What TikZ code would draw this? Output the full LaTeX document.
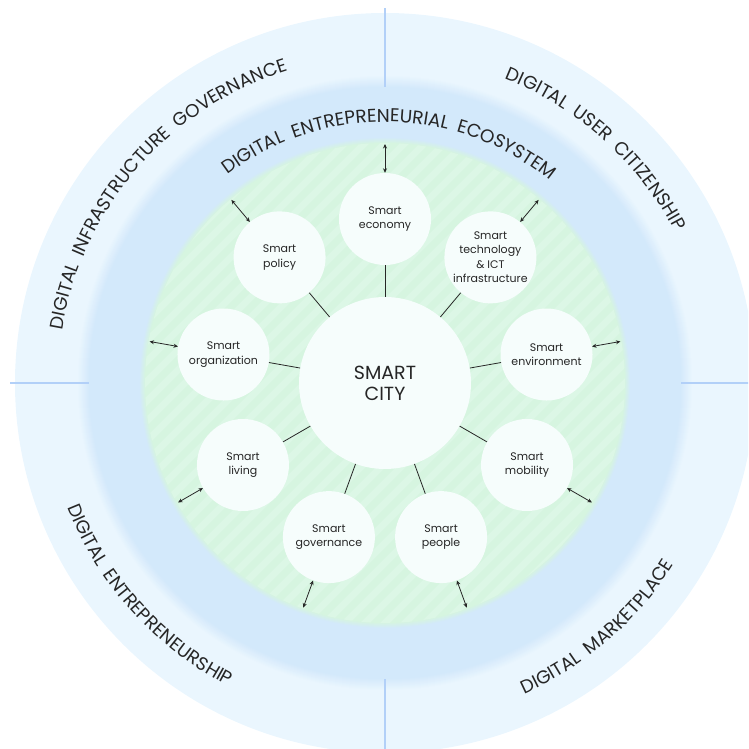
\documentclass[tikz,border=0pt]{standalone}
\usepackage{fontspec}
\setmainfont{Poppins}
\newfontfamily\ringfont{Poppins}
\usepackage{xcolor}
\usetikzlibrary{decorations.text, arrows.meta}

\definecolor{outerblue}{HTML}{EAF6FE}
\definecolor{ringblue}{HTML}{D3E9FB}
\definecolor{cityGreen}{HTML}{D6F5E0}
\definecolor{stripeGreen}{HTML}{DCF7E6}
\definecolor{bubblewhite}{HTML}{F6FDFC}
\definecolor{dividerblue}{HTML}{B2D0F8}
\definecolor{ink}{HTML}{262626}

\newcommand{\gap}{{\kern9pt}}

\tikzset{
  bubble/.style={circle, fill=bubblewhite, minimum size=92pt, inner sep=0pt, align=center, text=ink, font=\fontsize{11}{14.5}\selectfont},
  hubcircle/.style={circle, fill=bubblewhite, minimum size=172pt, inner sep=0pt, align=center, text=ink, font=\fontsize{19}{21}\selectfont},
  spoke/.style={draw=ink, line width=0.8pt},
  link/.style={draw=ink, line width=0.8pt, {Stealth[length=4.5pt,width=4pt]}-{Stealth[length=4.5pt,width=4pt]}},
  divider/.style={draw=dividerblue, line width=1.2pt},
  stripe/.style={draw=stripeGreen, line width=7pt},
  ringtext/.style={decorate, decoration={text along path, text align=center, text color=ink, text={|\ringfont\fontsize{18.5}{18.5}\selectfont|#1}}}
}

\begin{document}
\begin{tikzpicture}[x=1pt, y=1pt]
  % Frame
  \useasboundingbox (-385,-366) rectangle (363,383);
  \clip (-385,-366) rectangle (363,383);

  % Key radii
  \def\rorbit{164pt}
  \def\rgreen{240pt}
  \def\redge{239pt}
  \def\rmid{296pt}
  \def\router{370pt}

  % Blue rings, soft edge between them
  \fill[outerblue] (0,0) circle (\router);
  \foreach \j in {0,...,12} {
    \pgfmathsetmacro\mix{\j*100/12}
    \pgfmathsetmacro\rr{308-\j}
    \fill[ringblue!\mix!outerblue] (0,0) circle (\rr pt);
  }

  % Dividers of the outer ring
  \foreach \a in {0,90,180,270}
    \draw[divider] (\a:\rmid) -- (\a:\router+5pt);

  % Green disc with stripes
  \foreach \j in {0,...,5} {
    \pgfmathsetmacro\mix{\j*100/6}
    \pgfmathsetmacro\rr{246-\j}
    \fill[cityGreen!\mix!ringblue] (0,0) circle (\rr pt);
  }
  \fill[cityGreen] (0,0) circle (\rgreen);
  \begin{scope}
    \clip (0,0) circle (\rgreen);
    \foreach \k in {-30,...,30}
      \draw[stripe] (\k*20-260,-260) -- (\k*20+260,260);
  \end{scope}

  % Ring labels
  \path[ringtext={DIGITAL\gap ENTREPRENEURIAL\gap ECOSYSTEM}] (149:261pt) arc[start angle=149, end angle=29, radius=261pt];
  \path[ringtext={DIGITAL\gap INFRASTRUCTURE\gap GOVERNANCE}] (199:327pt) arc[start angle=199, end angle=79, radius=327pt];
  \path[ringtext={DIGITAL\gap USER\gap CITIZENSHIP}] (108:327pt) arc[start angle=108, end angle=-12, radius=327pt];
  \path[ringtext={DIGITAL\gap ENTREPRENEURSHIP}] (162:341pt) arc[start angle=162, end angle=282, radius=341pt];
  \path[ringtext={DIGITAL\gap MARKETPLACE}] (251:341pt) arc[start angle=251, end angle=371, radius=341pt];

  % Hub
  \node[hubcircle] (hub) at (0,0) {SMART\\CITY};

  % Satellites, spokes and links to the ring
  \foreach \lab [count=\i] in {{Smart\\economy}, {Smart\\technology\\\& ICT\\infrastructure}, {Smart\\environment}, {Smart\\mobility}, {Smart\\people}, {Smart\\governance}, {Smart\\living}, {Smart\\organization}, {Smart\\policy}} {
    \pgfmathsetmacro\ang{130-40*\i}
    \node[bubble] (s\i) at (\ang:\rorbit) {\lab};
    \coordinate (e\i) at (\ang:\redge);
    \draw[spoke] (hub) -- (s\i);
    \draw[link] (s\i) -- (e\i);
  }
\end{tikzpicture}
\end{document}
